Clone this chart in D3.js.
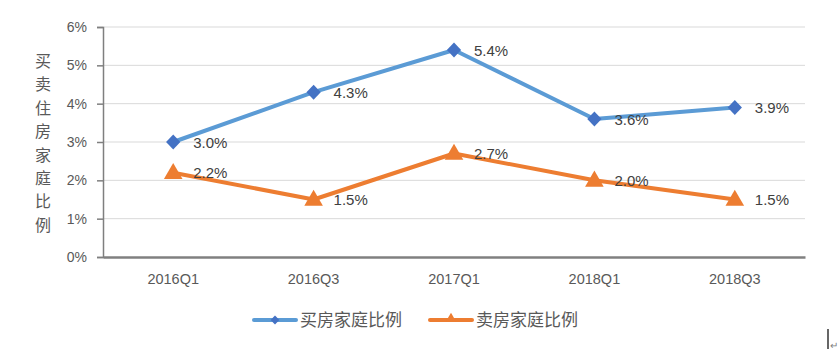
<!DOCTYPE html>
<html><head><meta charset="utf-8">
<script src="https://cdn.jsdelivr.net/npm/d3@7/dist/d3.min.js"></script>
<style>body{margin:0;background:#fff;}svg{display:block;font-family:"Noto Sans CJK SC","Liberation Sans",sans-serif;}</style>
</head><body><svg id="c" width="839" height="354"></svg>
<script>
const categories = ["2016Q1","2016Q3","2017Q1","2018Q1","2018Q3"];
const buyValues = [3.0, 4.3, 5.4, 3.6, 3.9];
const sellValues = [2.2, 1.5, 2.7, 2.0, 1.5];
const yTicks = [0,1,2,3,4,5,6];
const seriesNames = ["买房家庭比例","卖房家庭比例"];
const yTitle = "买卖住房家庭比例";

const svg = d3.select("#c");
const L = 103, R = 805, T = 27, B = 257;
const x = d3.scaleBand().domain(categories).range([L, R]);
const y = d3.scaleLinear().domain([0, 6]).range([B, T]);
const cx = d => x(d) + x.bandwidth()/2;
const numFont = "'Liberation Sans',Arial,sans-serif";

// gridlines
svg.append("g").selectAll("line").data(yTicks.filter(t=>t>0)).join("line")
  .attr("x1", L).attr("x2", R).attr("y1", d=>y(d)).attr("y2", d=>y(d))
  .attr("stroke", "#d9d9d9").attr("stroke-width", 1);

// y axis
const ya = svg.append("g").attr("transform", `translate(${L},0)`)
  .call(d3.axisLeft(y).tickValues(yTicks).tickFormat(d=>d+"%").tickSize(6).tickPadding(10));
ya.select(".domain").attr("stroke", "#7f7f7f").attr("stroke-width", 1.5);
ya.selectAll(".tick line").attr("stroke", "#7f7f7f").attr("stroke-width", 1.5);
ya.selectAll("text").attr("fill", "#595959").attr("font-size", 14).attr("font-family",numFont);

// x axis
const xa = svg.append("g").attr("transform", `translate(0,${B})`)
  .call(d3.axisBottom(x).tickSize(0).tickPadding(17));
xa.select(".domain").attr("stroke", "#808080").attr("stroke-width", 2.5);
xa.selectAll("text").attr("fill", "#595959").attr("font-size", 14.5).attr("font-family",numFont);

// y title vertical
svg.append("g").selectAll("text").data(Array.from(yTitle)).join("text")
  .attr("x", 43).attr("y", (d,i)=>67 + i*23.4).attr("text-anchor","middle")
  .attr("font-size", 16).attr("fill", "#595959").text(d=>d);

const line = d3.line().x((d,i)=>cx(categories[i])).y(d=>y(d));

// series
svg.append("path").datum(buyValues).attr("d", line).attr("fill","none")
  .attr("stroke","#5B9BD5").attr("stroke-width",4).attr("stroke-linejoin","round");
svg.append("path").datum(sellValues).attr("d", line).attr("fill","none")
  .attr("stroke","#ED7D31").attr("stroke-width",4).attr("stroke-linejoin","round");

const diamond = d3.symbol().type(d3.symbolDiamond2).size(130);
const tri = d3.symbol().type(d3.symbolTriangle).size(150);
svg.append("g").selectAll("path").data(buyValues).join("path")
  .attr("d", diamond).attr("fill","#4472C4")
  .attr("transform",(d,i)=>`translate(${cx(categories[i])},${y(d)}) scale(1,1.05)`);
svg.append("g").selectAll("path").data(sellValues).join("path")
  .attr("d", tri).attr("fill","#ED7D31")
  .attr("transform",(d,i)=>`translate(${cx(categories[i])},${y(d)+1})`);

// data labels
svg.append("g").selectAll("text").data(buyValues).join("text")
  .attr("x",(d,i)=>cx(categories[i])+20).attr("y",d=>y(d)+5.5)
  .attr("font-size",15).attr("fill","#404040").attr("font-family",numFont)
  .text(d=>d.toFixed(1)+"%");
svg.append("g").selectAll("text").data(sellValues).join("text")
  .attr("x",(d,i)=>cx(categories[i])+20).attr("y",d=>y(d)+5.5)
  .attr("font-size",15).attr("fill","#404040").attr("font-family",numFont)
  .text(d=>d.toFixed(1)+"%");

// legend
const lg = svg.append("g");
const legendX = [254, 430];
const colors = ["#5B9BD5","#ED7D31"];
const mColors = ["#4472C4","#ED7D31"];
seriesNames.forEach((n,i)=>{
  const g = lg.append("g").attr("transform",`translate(${legendX[i]},320)`);
  g.append("line").attr("x1",0).attr("x2",42).attr("stroke",colors[i]).attr("stroke-width",4).attr("stroke-linecap","round");
  g.append("path").attr("d", i===0 ? d3.symbol().type(d3.symbolDiamond2).size(50)() : d3.symbol().type(d3.symbolTriangle).size(50)())
    .attr("fill",mColors[i]).attr("transform",`translate(21,${i===0?0:-1})`);
  g.append("text").attr("x",46).attr("y",6).attr("font-size",17).attr("fill","#595959").text(n);
});

// cursor mark
svg.append("line").attr("x1",828).attr("x2",828).attr("y1",329).attr("y2",349).attr("stroke","#000").attr("stroke-width",1.2);
svg.append("text").attr("x",830).attr("y",349).attr("font-size",10).attr("fill","#7f7f7f").text("↵");
</script></body></html>
